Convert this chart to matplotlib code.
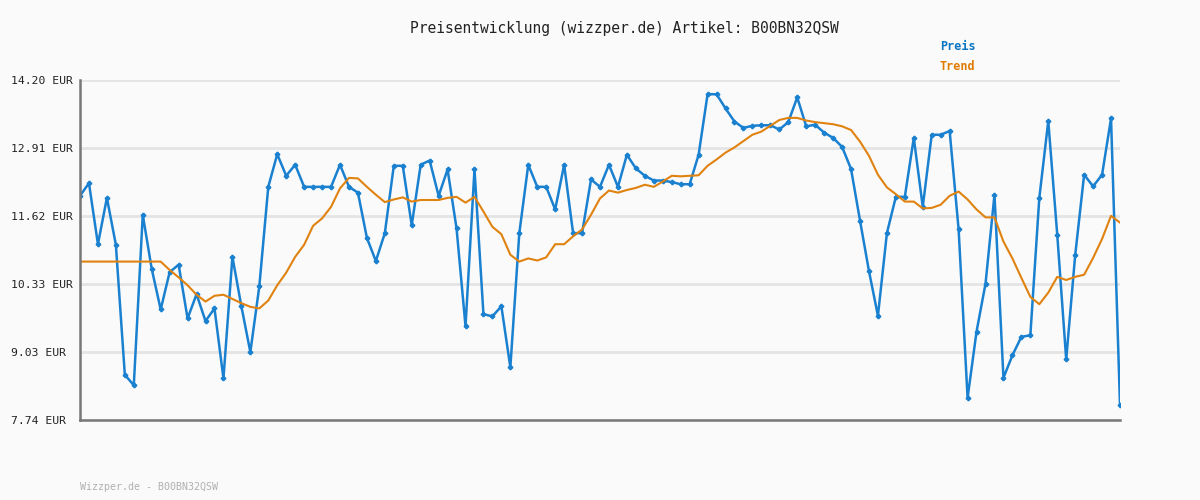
import matplotlib.pyplot as plt

# Preisverlauf (117 Messpunkte)
preis = [
    12.00, 12.24, 11.08, 11.96, 11.07, 8.60, 8.40, 11.64, 10.61, 9.84,
    10.55, 10.69, 9.67, 10.13, 9.62, 9.86, 8.53, 10.84, 9.90, 9.03,
    10.28, 12.17, 12.79, 12.38, 12.59, 12.17, 12.17, 12.17, 12.17, 12.59,
    12.17, 12.06, 11.20, 10.76, 11.29, 12.57, 12.57, 11.44, 12.59, 12.67,
    12.00, 12.50, 11.38, 9.52, 12.50, 9.75, 9.71, 9.90, 8.74, 11.29,
    12.59, 12.17, 12.17, 11.74, 12.59, 11.29, 11.29, 12.31, 12.17, 12.59,
    12.17, 12.78, 12.52, 12.38, 12.29, 12.29, 12.26, 12.22, 12.22, 12.78,
    13.93, 13.93, 13.66, 13.41, 13.29, 13.33, 13.34, 13.34, 13.26, 13.40,
    13.87, 13.32, 13.35, 13.20, 13.10, 12.93, 12.51, 11.53, 10.57, 9.72,
    11.29, 11.98, 11.98, 13.10, 11.79, 13.16, 13.16, 13.23, 11.36, 8.16,
    9.42, 10.33, 12.02, 8.54, 8.97, 9.32, 9.35, 11.96, 13.42, 11.26,
    8.89, 10.87, 12.40, 12.18, 12.40, 13.47, 8.02,
]

trend = [
    10.75, 10.75, 10.75, 10.75, 10.75, 10.75, 10.75, 10.75, 10.75, 10.75,
    10.59, 10.45, 10.30, 10.12, 9.99, 10.10, 10.12, 10.04, 9.96, 9.89,
    9.86, 10.01, 10.30, 10.54, 10.84, 11.07, 11.43, 11.57, 11.79, 12.14,
    12.34, 12.33, 12.17, 12.02, 11.88, 11.93, 11.97, 11.89, 11.92, 11.92,
    11.92, 11.96, 11.98, 11.87, 11.98, 11.70, 11.41, 11.27, 10.88, 10.75,
    10.81, 10.77, 10.83, 11.08, 11.08, 11.23, 11.36, 11.64, 11.95, 12.10,
    12.06, 12.11, 12.15, 12.21, 12.17, 12.27, 12.38, 12.37, 12.38, 12.39,
    12.57, 12.69, 12.82, 12.92, 13.04, 13.16, 13.22, 13.33, 13.44, 13.48,
    13.48, 13.43, 13.40, 13.38, 13.36, 13.32, 13.25, 13.03, 12.76, 12.40,
    12.16, 12.03, 11.89, 11.89, 11.76, 11.77, 11.83, 12.00, 12.08, 11.93,
    11.74, 11.59, 11.59, 11.13, 10.81, 10.44, 10.08, 9.94, 10.16, 10.46,
    10.40, 10.46, 10.50, 10.82, 11.18, 11.62, 11.49,
]

y_ticks = [7.74, 9.03, 10.33, 11.62, 12.91, 14.20]
y_labels = ["7.74 EUR", "9.03 EUR", "10.33 EUR", "11.62 EUR", "12.91 EUR", "14.20 EUR"]

blau = "#1a80d0"
orange = "#e0820f"
mono = "DejaVu Sans Mono"

fig = plt.figure(figsize=(12, 5), dpi=100, facecolor="#fafafa")
ax = fig.add_axes([80 / 1200, 1 - 420 / 500, 1040 / 1200, 340 / 500])
ax.set_facecolor("#fafafa")

x = range(len(preis))
ax.plot(x, preis, color=blau, lw=1.8, marker="P", ms=3, mec=blau, mfc=blau, zorder=3)
ax.plot(x, trend, color=orange, lw=1.5, zorder=4)

ax.set_xlim(0, len(preis) - 1)
ax.set_ylim(y_ticks[0], y_ticks[-1])
ax.set_yticks(y_ticks)
ax.set_yticklabels(y_labels, fontfamily=mono, fontsize=8.2, color="#222222", ha="left")
ax.tick_params(axis="y", length=0, pad=50)
ax.set_xticks([])
ax.grid(axis="y", color="#e4e4e4", lw=2)

for s in ["top", "right"]:
    ax.spines[s].set_visible(False)
for s in ["left", "bottom"]:
    ax.spines[s].set_color("#777777")
    ax.spines[s].set_linewidth(1.8)
    ax.spines[s].set_zorder(5)

fig.text(0.52, 1 - 28 / 500, "Preisentwicklung (wizzper.de) Artikel: B00BN32QSW",
         ha="center", va="center", fontfamily=mono, fontsize=10.5, color="#222222")
fig.text(940 / 1200, 1 - 47 / 500, "Preis", ha="left", va="center",
         fontfamily=mono, fontsize=8.5, fontweight="bold", color="#0a75c2")
fig.text(940 / 1200, 1 - 67 / 500, "Trend", ha="left", va="center",
         fontfamily=mono, fontsize=8.5, fontweight="bold", color="#e07b00")
fig.text(80 / 1200, 1 - 487 / 500, "Wizzper.de - B00BN32QSW", ha="left", va="center",
         fontfamily=mono, fontsize=7.2, color="#b0b0b0")

fig.savefig("out.png", dpi=100, facecolor=fig.get_facecolor())
